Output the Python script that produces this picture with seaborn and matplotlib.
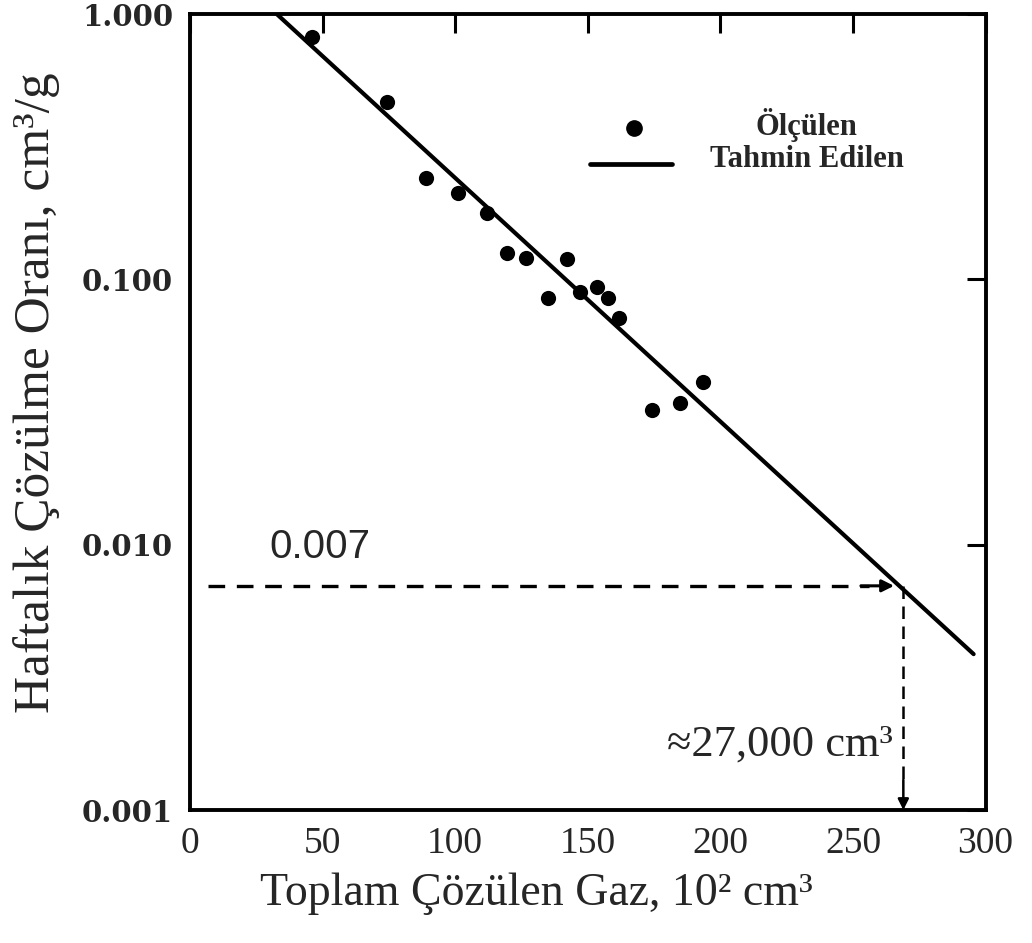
import matplotlib
matplotlib.use("Agg")
import matplotlib.pyplot as plt
import seaborn as sns
import pandas as pd

# ---- data ----
gas_total = [46.0, 74.3, 89.1, 101.1, 112.1, 119.6, 126.8, 135.1, 142.3,
             147.2, 153.6, 157.7, 161.9, 174.3, 184.9, 193.6]          # 10^2 cm3
rate_measured = [0.819, 0.466, 0.241, 0.2115, 0.178, 0.1257, 0.120, 0.085,
                 0.119, 0.0896, 0.0935, 0.085, 0.0715, 0.0322, 0.0342, 0.041]
pred_x = [32.8, 295.5]
pred_y = [1.0, 0.00387]
read_rate = 0.007
read_gas = 269
x_ticks = [0, 50, 100, 150, 200, 250, 300]
y_ticks = [0.001, 0.01, 0.1, 1.0]
y_tick_labels = ["0.001", "0.010", "0.100", "1.000"]
legend_labels = ["Ölçülen", "Tahmin Edilen"]

sns.set_theme(style="white")
plt.rcParams["font.family"] = ["Liberation Serif", "DejaVu Serif"]

meas = pd.DataFrame({"x": gas_total, "y": rate_measured})
pred = pd.DataFrame({"x": pred_x, "y": pred_y})

fig = plt.figure(figsize=(10.32, 9.43), dpi=100)
ax = fig.add_axes([0.184, 0.141, 0.771, 0.844])

sns.lineplot(data=pred, x="x", y="y", ax=ax, color="black", linewidth=3.0)
sns.scatterplot(data=meas, x="x", y="y", ax=ax, color="black", s=120,
                edgecolor="black", linewidth=0, zorder=3)

ax.set_yscale("log")
ax.set_xlim(0, 300)
ax.set_ylim(0.001, 1.0)

# reading lines
ax.plot([7, 256], [read_rate, read_rate], color="black", linewidth=2.4,
        linestyle=(0, (5, 3.5)))
ax.annotate("", xy=(265.5, read_rate), xytext=(253, read_rate),
            arrowprops=dict(arrowstyle="-|>", color="black", lw=2.2,
                            mutation_scale=18, shrinkA=0, shrinkB=0))
ax.plot([read_gas, read_gas], [read_rate, 0.00125], color="black", linewidth=1.8,
        linestyle=(0, (5, 3)))
ax.annotate("", xy=(read_gas, 0.001), xytext=(read_gas, 0.0013),
            arrowprops=dict(arrowstyle="-|>", color="black", lw=1.8,
                            mutation_scale=16, shrinkA=0, shrinkB=0))

ax.text(49, 0.0098, "0.007", fontsize=29, ha="center", va="center",
        family=["Liberation Sans Narrow", "Liberation Sans", "DejaVu Sans"])
ax.text(265, 0.00176, "≈27,000 cm³", fontsize=32, ha="right", va="center")

# manual legend
ax.plot([0.558], [0.857], marker="o", markersize=11, color="black",
        transform=ax.transAxes, linestyle="none")
ax.plot([0.503, 0.606], [0.812, 0.812], color="black", linewidth=3.4,
        transform=ax.transAxes)
ax.text(0.775, 0.861, legend_labels[0], transform=ax.transAxes, fontsize=22,
        fontweight="bold", ha="center", va="center")
ax.text(0.775, 0.817, legend_labels[1], transform=ax.transAxes, fontsize=22,
        fontweight="bold", ha="center", va="center")

# axes styling
ax.set_xticks(x_ticks)
ax.set_xticklabels([str(v) for v in x_ticks],
                   family=["Liberation Serif"], fontsize=27)
ax.set_yticks(y_ticks)
ax.set_yticklabels(y_tick_labels, family=["DejaVu Serif"], fontsize=21,
                   fontweight="semibold")
ax.minorticks_off()
ax.tick_params(axis="both", which="major", direction="in", length=14,
               width=2.2, color="black", top=True, right=True, pad=12)
for s in ax.spines.values():
    s.set_linewidth(2.8)
    s.set_color("black")

ax.set_xlabel("Toplam Çözülen Gaz, 10² cm³", fontsize=33)
ax.xaxis.set_label_coords(0.436, -0.078)
ax.set_ylabel("Haftalık Çözülme Oranı, cm³/g", fontsize=37)
ax.yaxis.set_label_coords(-0.163, 0.525)
ax.grid(False)

fig.savefig("out.png", dpi=100, facecolor="white")
